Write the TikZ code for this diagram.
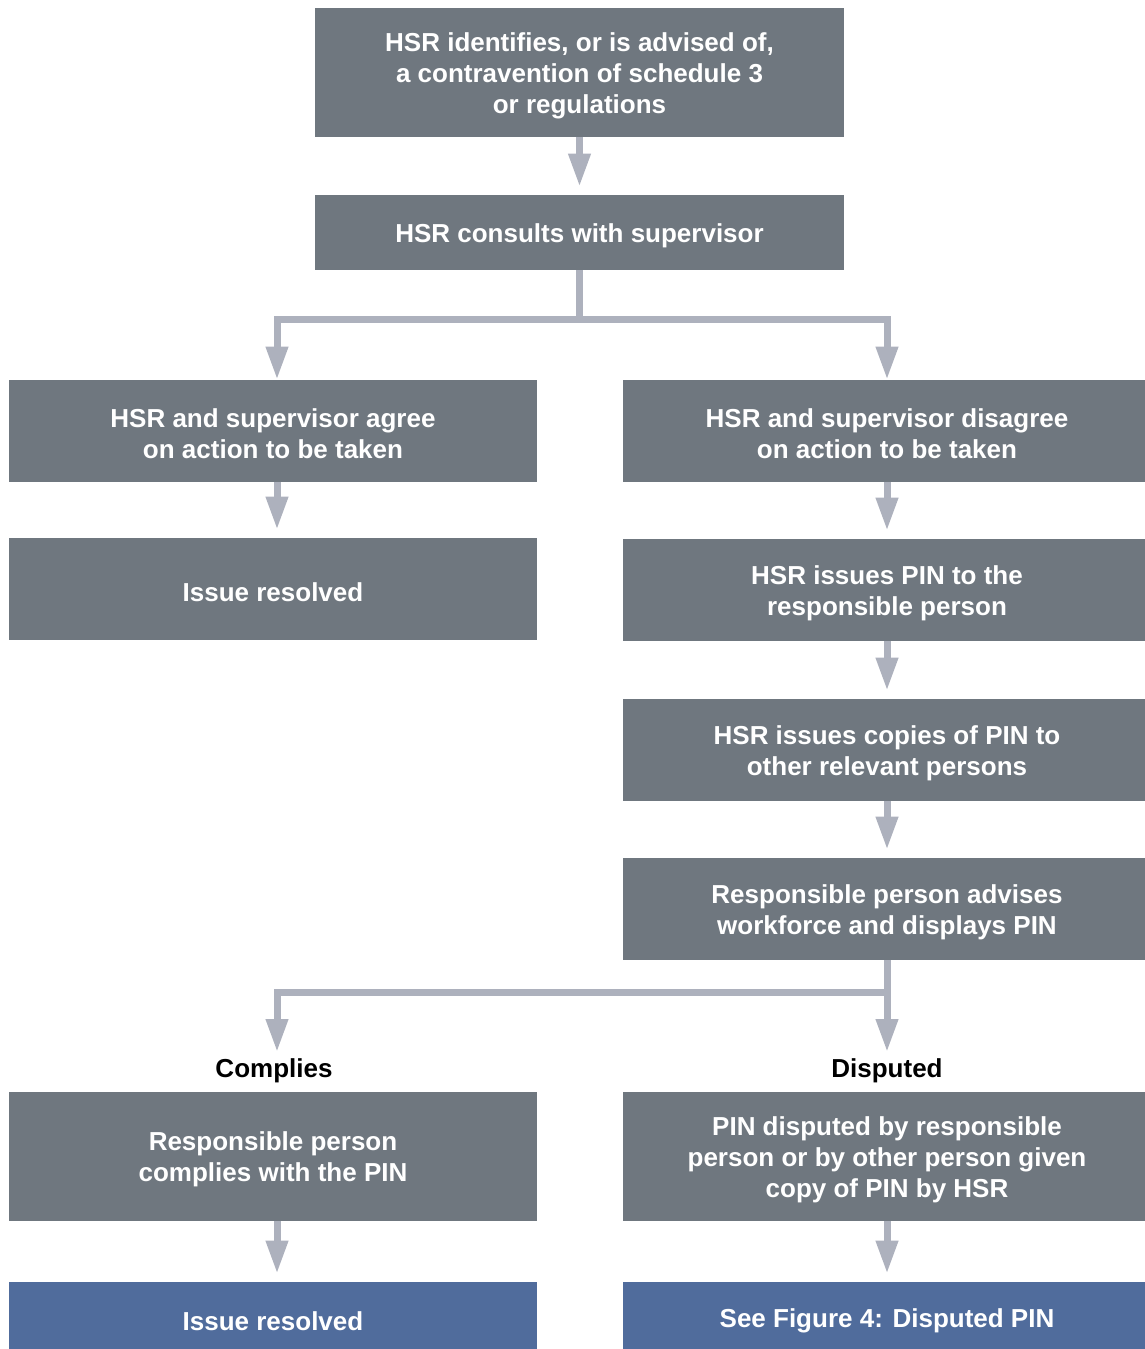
\documentclass[tikz,border=0pt]{standalone}
\usepackage{fontspec}
\setmainfont{Liberation Sans}
\usetikzlibrary{arrows.meta}
\definecolor{boxgray}{HTML}{6F777F}
\definecolor{arrgray}{HTML}{ADB1BD}
\definecolor{boxblue}{HTML}{506C9C}
\begin{document}
\begin{tikzpicture}[x=0.5pt,y=-0.5pt,
  box/.style={fill=boxgray, inner sep=0pt, minimum width=264pt},
  bluebox/.style={box, fill=boxblue},
  txt/.style={text=white, font=\fontsize{13pt}{15.5pt}\selectfont\bfseries, align=center, inner sep=0pt, yshift=-1.5pt},
  lbl/.style={font=\fontsize{13pt}{15.5pt}\selectfont\bfseries, text=black, inner sep=0pt, yshift=-1.5pt},
  arr/.style={draw=arrgray, line width=3.5pt, line join=miter, -{Triangle[length=16.5pt,width=10.5pt]}},
  gap/.style={shorten >=4pt},
  ]
\useasboundingbox (0,0) rectangle (1145,1349);
\clip (0,0) rectangle (1145,1349);

% top column
\node[box, minimum width=264.5pt, minimum height=64.5pt] (b1) at (579.5,72.5) {};
\node[txt] (t1) at (b1) {HSR identifies, or is advised of,\\a contravention of schedule 3\\or regulations};
\node[box, minimum width=264.5pt, minimum height=37.5pt] (b2) at (579.5,232.5) {};
\node[txt] (t2) at (b2) {HSR consults with supervisor};

% left column
\node[box, minimum height=51pt] (b3l) at (273,431) {};
\node[txt] (t3l) at (b3l) {HSR and supervisor agree\\on action to be taken};
\node[box, minimum height=51pt] (b4l) at (273,589) {};
\node[txt] (t4l) at (b4l) {Issue resolved};

% right column
\node[box, minimum height=51pt] (b3r) at (887,431) {};
\node[txt] (t3r) at (b3r) {HSR and supervisor disagree\\on action to be taken};
\node[box, minimum height=51pt] (b4r) at (887,590) {};
\node[txt] (t4r) at (b4r) {HSR issues PIN to the\\responsible person};
\node[box, minimum height=51pt] (b5r) at (887,750) {};
\node[txt] (t5r) at (b5r) {HSR issues copies of PIN to\\other relevant persons};
\node[box, minimum height=51pt] (b6r) at (887,909) {};
\node[txt] (t6r) at (b6r) {Responsible person advises\\workforce and displays PIN};

% labels
\node[lbl] (comp) at (274,1068) {Complies};
\node[lbl] (disp) at (887,1068) {Disputed};

% bottom rows
\node[box, minimum height=64.5pt] (b7l) at (273,1156.5) {};
\node[txt] (t7l) at (b7l) {Responsible person\\complies with the PIN};
\node[box, minimum height=64.5pt] (b7r) at (887,1156.5) {};
\node[txt] (t7r) at (b7r) {PIN disputed by responsible\\person or by other person given\\copy of PIN by HSR};
\node[bluebox, minimum height=36pt] (b8l) at (273,1318) {};
\node[txt] (t8l) at (b8l) {Issue resolved};
\node[bluebox, minimum height=36pt] (b8r) at (887,1318) {};
\node[txt] (t8r) at (b8r) {See Figure 4: Disputed PIN};

\coordinate (cl) at (277,1052);
\coordinate (cr) at (887,1052);

% connectors
\draw[arr, gap] (b1.south) -- (b2.north);
\draw[arr] (b2.south) -- (579.5,319) -| ([xshift=2pt]b3l.north);
\draw[arr] (b2.south) -- (579.5,319) -| (b3r.north);
\draw[arr, gap] ([xshift=2pt]b3l.south) -- ([xshift=2pt]b4l.north);
\draw[arr, gap] (b3r.south) -- (b4r.north);
\draw[arr, gap] (b4r.south) -- (b5r.north);
\draw[arr, gap] (b5r.south) -- (b6r.north);
\draw[arr] (b6r.south) -- (887,992) -| (cl);
\draw[arr] (b6r.south) -- (cr);
\draw[arr, gap] ([xshift=2pt]b7l.south) -- ([xshift=2pt]b8l.north);
\draw[arr, gap] (b7r.south) -- (b8r.north);
\end{tikzpicture}
\end{document}
